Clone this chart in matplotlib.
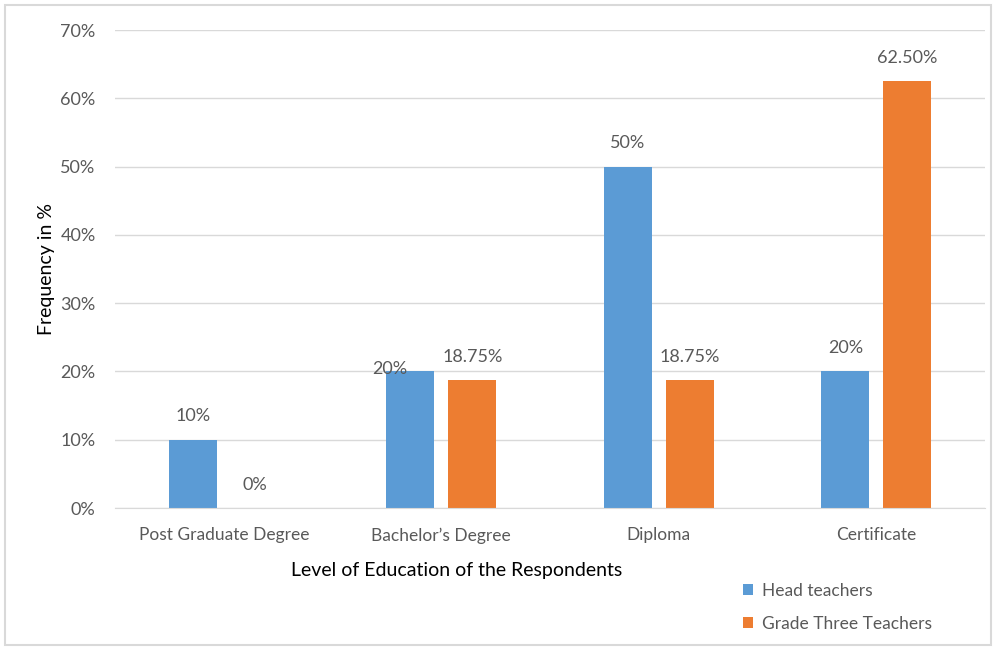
import matplotlib.pyplot as plt
import numpy as np
from matplotlib.patches import Rectangle

plt.rcParams['font.family'] = ['Lato', 'DejaVu Sans']

levels = ['Post Graduate Degree', 'Bachelor\u2019s Degree', 'Diploma', 'Certificate']
head_teachers = [10, 20, 50, 20]
grade_three = [0, 18.75, 18.75, 62.5]
head_labels = ['10%', '20%', '50%', '20%']
grade_labels = ['0%', '18.75%', '18.75%', '62.50%']

blue = '#5B9BD5'
orange = '#ED7D31'
text_col = '#595959'
grid_col = '#D9D9D9'

fig = plt.figure(figsize=(9.96, 6.48), dpi=100)
ax = fig.add_axes([0.1155, 0.216, 0.8735, 0.7377])

x = np.arange(len(levels))
w = 0.22
off = 0.1425
b1 = ax.bar(x - off, head_teachers, w, color=blue, label='Head teachers', zorder=3)
b2 = ax.bar(x + off, grade_three, w, color=orange, label='Grade Three Teachers', zorder=3)

# value labels above each bar
for i, (bar, lab) in enumerate(zip(b1, head_labels)):
    dx, dy = (0, 11)
    if i == 1:
        dx, dy = (-15, -4)
    ax.annotate(lab, (bar.get_x() + bar.get_width() / 2, bar.get_height()),
                xytext=(dx, dy), textcoords='offset points', ha='center', va='bottom',
                fontsize=13, color=text_col)
for bar, lab in zip(b2, grade_labels):
    ax.annotate(lab, (bar.get_x() + bar.get_width() / 2, bar.get_height()),
                xytext=(0, 11), textcoords='offset points', ha='center', va='bottom',
                fontsize=13, color=text_col)

ax.set_xlim(-0.5, len(levels) - 0.5)
ax.set_ylim(0, 70)
ax.set_yticks(range(0, 71, 10))
ax.set_yticklabels([f'{v}%' for v in range(0, 71, 10)])
ax.set_xticks(x)
ax.set_xticklabels(levels)
ax.tick_params(axis='both', length=0, labelcolor=text_col)
ax.tick_params(axis='y', pad=14, labelsize=13)
ax.tick_params(axis='x', pad=14, labelsize=12.5)
ax.yaxis.grid(True, color=grid_col, linewidth=1, zorder=0)
for s in ['top', 'right', 'left']:
    ax.spines[s].set_visible(False)
ax.spines['bottom'].set_color(grid_col)
ax.spines['bottom'].set_zorder(4)

ax.set_xlabel('Level of Education of the Respondents', fontsize=14, color='black')
ax.xaxis.set_label_coords(0.393, -0.113)
ax.set_ylabel('Frequency in %', fontsize=14, color='black', labelpad=4)

fig.legend(handles=[b1, b2], loc='upper left', bbox_to_anchor=(0.73, 0.125),
           frameon=False, fontsize=12.5, handlelength=0.6, handleheight=0.6,
           handletextpad=0.5, labelspacing=1.0, labelcolor=text_col)

fig.patches.append(Rectangle((0.005, 0.005), 0.99, 0.988, transform=fig.transFigure,
                             fill=False, edgecolor=grid_col, linewidth=1.5))

fig.savefig('out.png', dpi=100)
